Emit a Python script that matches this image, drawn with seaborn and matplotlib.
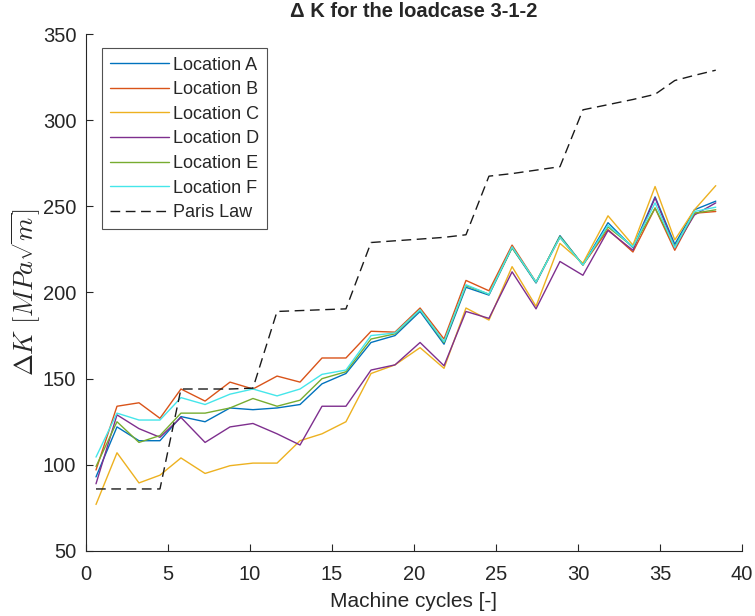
import numpy as np
import pandas as pd
import matplotlib
matplotlib.use("Agg")
import matplotlib.pyplot as plt
import seaborn as sns

cycles = [0.61, 1.89, 3.23, 4.51, 5.79, 7.26, 8.78, 10.18, 11.65, 13.05, 14.39, 15.85,
          17.38, 18.84, 20.37, 21.83, 23.17, 24.57, 25.98, 27.44, 28.9, 30.3, 31.83,
          33.35, 34.7, 35.9, 37.1, 38.4]

loc_a = [93, 122, 114, 114, 128, 125, 133, 132, 133, 135, 147, 153, 171, 175, 189, 170,
         203, 198.5, 226, 205.5, 233, 216, 240.5, 226, 255.5, 228, 248, 253]
loc_b = [97, 134, 136, 127, 144, 137, 148, 144, 151.5, 148, 162, 162, 177.5, 177, 191, 173,
         207, 201, 227.5, 206, 232, 216, 236.5, 223.5, 249, 224.5, 246, 247]
loc_c = [77, 107, 89.5, 94, 104, 95, 99.5, 101, 101, 114, 118, 125, 153, 158, 168, 156,
         191, 184, 215, 192, 228.5, 217, 244.5, 227.5, 261.5, 230.5, 248, 262]
loc_d = [89, 129, 121, 116, 127.5, 113, 122, 124, 118, 111.5, 134, 134, 155, 158, 171, 157.5,
         189, 185, 212, 190.5, 218, 210, 236, 224.5, 255, 226, 245, 252]
loc_e = [99, 125, 113, 117, 130, 130, 133, 138.5, 134, 137.5, 150, 154, 173, 176, 190, 171,
         204, 199, 226, 206, 232.5, 216, 238, 226.5, 249, 226.5, 246, 248]
loc_f = [104.5, 130, 126, 126, 139, 135, 141, 144, 140, 144, 152.5, 155, 175, 176.5, 190, 171.5,
         204.5, 199, 226.5, 206, 232, 216, 239, 226.5, 252, 226, 247, 249.5]
paris = [86, 86, 86, 86, 144, 144, 144, 144.5, 189, 189.5, 190, 190.5, 229, 230, 231, 232,
         233.5, 267.5, 269, 271, 273, 306, 309, 312, 315, 323, 326, 329]

series_names = ["Location A", "Location B", "Location C", "Location D", "Location E", "Location F"]
colors = ["#0072BD", "#D95319", "#EDB120", "#7E2F8E", "#77AC30", "#45E6EA"]

x_ticks = [0, 5, 10, 15, 20, 25, 30, 35, 40]
y_ticks = [50, 100, 150, 200, 250, 300, 350]

frames = []
for name, vals in zip(series_names, [loc_a, loc_b, loc_c, loc_d, loc_e, loc_f]):
    frames.append(pd.DataFrame({"cycles": cycles, "dK": vals, "series": name}))
df = pd.concat(frames, ignore_index=True)
df_paris = pd.DataFrame({"cycles": cycles, "dK": paris})

sns.set_style("ticks")
plt.rcParams["font.family"] = ["Liberation Sans", "DejaVu Sans"]
plt.rcParams["mathtext.fontset"] = "cm"

fig = plt.figure(figsize=(7.55, 6.16), dpi=100)
ax = fig.add_axes([86 / 755, 1 - 551 / 616, (742 - 86) / 755, (551 - 34) / 616])

sns.lineplot(data=df, x="cycles", y="dK", hue="series", palette=dict(zip(series_names, colors)),
             estimator=None, sort=False, linewidth=1.0, ax=ax, legend=False)
sns.lineplot(data=df_paris, x="cycles", y="dK", color="#1a1a1a", linewidth=1.0,
             estimator=None, sort=False, ax=ax, legend=False)
ax.lines[-1].set_dashes([7, 4])

ax.set_xlim(0, 40)
ax.set_ylim(50, 350)
ax.set_xticks(x_ticks)
ax.set_yticks(y_ticks)
ax.tick_params(direction="in", length=5, width=0.8, colors="#262626", labelsize=14.5, pad=7)
ax.tick_params(axis="x", pad=10)
for side in ["top", "right"]:
    ax.spines[side].set_visible(False)
for side in ["left", "bottom"]:
    ax.spines[side].set_color("#262626")
    ax.spines[side].set_linewidth(0.8)

ax.set_xlabel("Machine cycles [-]", fontsize=15, color="#262626", labelpad=6)
ax.set_ylabel(r"$\Delta K\ [MPa\sqrt{m}]$", fontsize=19, color="#262626", labelpad=0)
ax.set_title("\u0394 K for the loadcase 3-1-2", fontsize=14.5, fontweight="bold", pad=12)

handles = list(ax.lines)
labels = series_names + ["Paris Law"]
leg = ax.legend(handles, labels, loc="upper left", bbox_to_anchor=(0.024, 0.972),
                fontsize=13, frameon=True, fancybox=False, handlelength=3.3,
                handletextpad=0.2, borderpad=0.45, labelspacing=0.42, borderaxespad=0)
leg.get_frame().set_edgecolor("#262626")
leg.get_frame().set_linewidth(0.8)

fig.savefig("out.png", dpi=100)
